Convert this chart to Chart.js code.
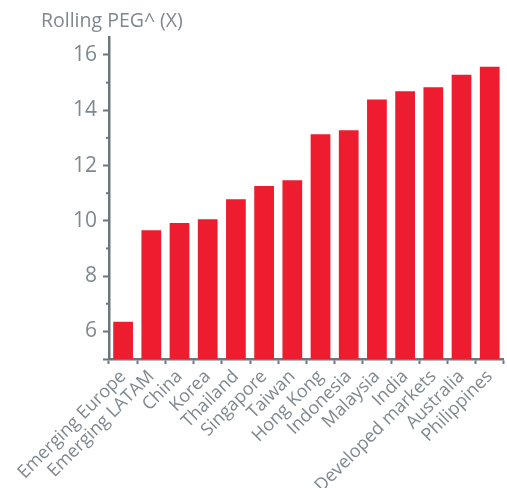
<!DOCTYPE html>
<html>
<head>
<meta charset="utf-8">
<script src="https://cdn.jsdelivr.net/npm/chart.js@4/dist/chart.umd.min.js"></script>
<style>
  html, body { margin: 0; padding: 0; background: #fff; }
  #wrap { width: 507px; height: 488px; }
</style>
</head>
<body>
<div id="wrap"><canvas id="pegChart" width="507" height="488"></canvas></div>
<script>
const markets = [
  'Emerging Europe', 'Emerging LATAM', 'China', 'Korea', 'Thailand',
  'Singapore', 'Taiwan', 'Hong Kong', 'Indonesia', 'Malaysia', 'India',
  'Developed markets', 'Australia', 'Philippines'
];
const rollingPeg = [6.35, 9.66, 9.92, 10.06, 10.78, 11.26, 11.47, 13.13, 13.28, 14.39, 14.69, 14.83, 15.28, 15.57];
const majorTicks = [5, 6, 8, 10, 12, 14, 16];
const minorTicks = [7, 9, 11, 13, 15];
const chartTitle = 'Rolling PEG^ (X)';

const grey = '#6d767d';
const textGrey = '#7f8890';
const red = '#ed1c2e';
const font = '"Open Sans", "Noto Sans", sans-serif';

// title text and the short minor ticks on the y axis
const extras = {
  id: 'extras',
  afterDraw(chart) {
    const ctx = chart.ctx;
    const y = chart.scales.y;
    ctx.save();
    ctx.strokeStyle = grey;
    ctx.lineWidth = 2;
    minorTicks.forEach(v => {
      const py = y.getPixelForValue(v);
      ctx.beginPath();
      ctx.moveTo(chart.chartArea.left - 3, py);
      ctx.lineTo(chart.chartArea.left, py);
      ctx.stroke();
    });
    ctx.fillStyle = textGrey;
    ctx.font = '19.5px ' + font;
    ctx.textBaseline = 'alphabetic';
    ctx.fillText(chartTitle, 41, 27);
    ctx.restore();
  }
};

new Chart(document.getElementById('pegChart'), {
  type: 'bar',
  data: {
    labels: markets,
    datasets: [{
      data: rollingPeg,
      backgroundColor: red,
      barPercentage: 0.7,
      categoryPercentage: 1.0
    }]
  },
  options: {
    responsive: false,
    animation: false,
    layout: { padding: { top: 37, right: 0, left: 0, bottom: 0 } },
    plugins: { legend: { display: false }, tooltip: { enabled: false } },
    scales: {
      x: {
        afterFit: s => { s.height = 129; },
        border: { color: grey, width: 2.5 },
        grid: { drawOnChartArea: false, tickLength: 5, tickColor: grey, tickWidth: 2 },
        ticks: {
          color: textGrey,
          font: { family: font, size: 18 },
          minRotation: 45,
          maxRotation: 45,
          autoSkip: false,
          padding: 2
        }
      },
      y: {
        min: 5,
        max: 16.65,
        afterFit: s => { s.width = 109; },
        afterBuildTicks: s => { s.ticks = majorTicks.map(v => ({ value: v })); },
        border: { color: grey, width: 2.5 },
        grid: { drawOnChartArea: false, tickLength: 6, tickColor: grey, tickWidth: 2 },
        ticks: {
          color: textGrey,
          font: { family: font, size: 21 },
          padding: 6,
          callback: v => (v === 5 ? '' : v)
        }
      }
    }
  },
  plugins: [extras]
});
</script>
</body>
</html>
